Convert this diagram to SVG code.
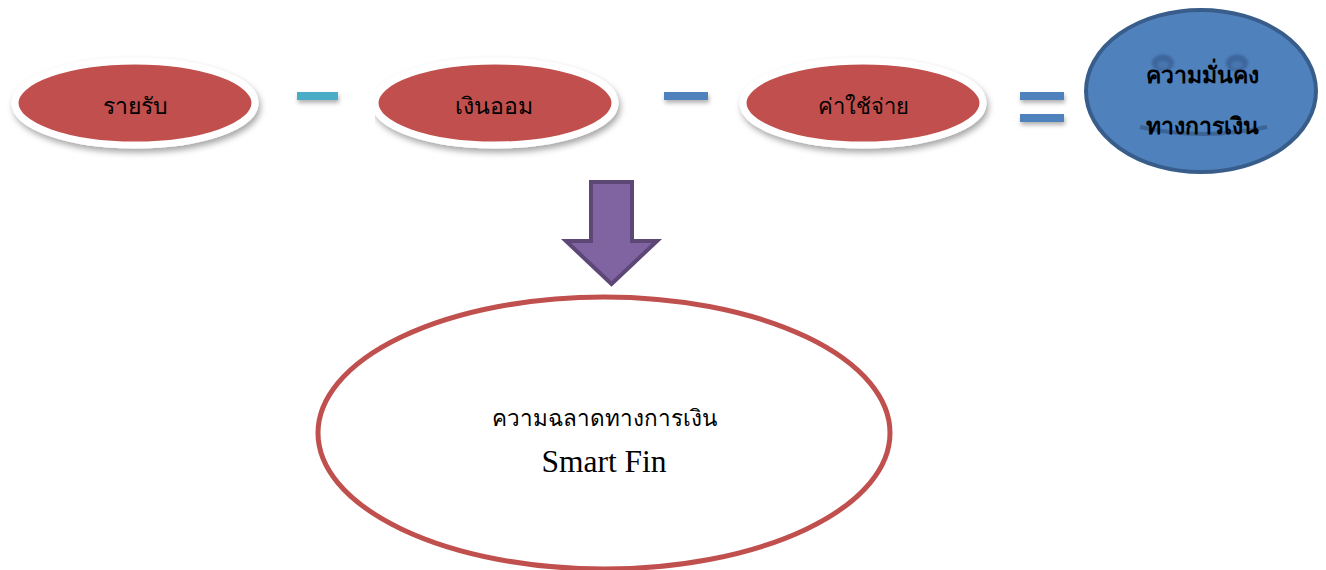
<svg xmlns="http://www.w3.org/2000/svg" width="1326" height="570" viewBox="0 0 1326 570">
<style>
.oval{fill:#c0504d;stroke:#ffffff;stroke-width:7;filter:url(#sh)}
.lbl{font-family:"Liberation Serif","Noto Sans",serif;font-size:23px;fill:#000;text-anchor:middle}
.face{font-family:"Liberation Serif","Noto Sans",serif;font-size:23px;font-weight:bold;fill:#000;text-anchor:middle}
.op{filter:url(#sh2)}
</style>
<defs>
<filter id="sh" x="-20%" y="-30%" width="140%" height="170%">
<feDropShadow dx="2" dy="4" stdDeviation="3" flood-color="#000" flood-opacity="0.35"/>
</filter>
<filter id="sh2" x="-30%" y="-100%" width="160%" height="400%">
<feDropShadow dx="1" dy="3" stdDeviation="2" flood-color="#000" flood-opacity="0.3"/>
</filter>
<filter id="blur" x="-50%" y="-50%" width="200%" height="200%">
<feGaussianBlur stdDeviation="1.2"/>
</filter>
<clipPath id="clip2"><rect x="375" y="0" width="400" height="200"/></clipPath>
</defs>

<g id="income">
<ellipse class="oval" cx="135" cy="103" rx="120" ry="42"/>
<text class="lbl" x="135" y="114">รายรับ</text>
</g>

<g id="savings">
<g clip-path="url(#clip2)">
<ellipse class="oval" cx="495" cy="103" rx="120" ry="42"/>
</g>
<text class="lbl" x="494" y="114">เงินออม</text>
</g>

<g id="expenses">
<ellipse class="oval" cx="863" cy="103" rx="120" ry="42"/>
<text class="lbl" x="863" y="114" style="font-size:22px">ค่าใช้จ่าย</text>
</g>

<g id="operators">
<rect class="op" x="297" y="92" width="41" height="8" fill="#4bacc6"/>
<rect class="op" x="664" y="92" width="44" height="8" fill="#4f81bd"/>
<rect class="op" x="1020" y="92" width="44" height="8" fill="#4f81bd"/>
<rect class="op" x="1020" y="114" width="44" height="8" fill="#4f81bd"/>
</g>

<g id="security">
<ellipse cx="1201" cy="91" rx="115" ry="81" fill="#4f81bd" stroke="#385d8a" stroke-width="4"/>
<g filter="url(#blur)">
<ellipse cx="1163" cy="63" rx="11" ry="8.5" fill="#3d669c"/>
<ellipse cx="1163" cy="65" rx="6" ry="4" fill="#4776ae"/>
<ellipse cx="1237" cy="63" rx="11" ry="8.5" fill="#3d669c"/>
<ellipse cx="1237" cy="65" rx="6" ry="4" fill="#4776ae"/>
</g>
<path d="M1140 127 Q1203 141 1267 127" fill="none" stroke="#3d6496" stroke-width="4"/>
<text class="face" x="1202" y="83">ความมั่นคง</text>
<text class="face" x="1202" y="134">ทางการเงิน</text>
</g>

<g id="connectors">
<path d="M591 182 H632 V241 H657 L611.5 284 L566 241 H591 Z" fill="#8064a2" stroke="#5c4776" stroke-width="4" stroke-linejoin="miter"/>
</g>

<g id="smartfin">
<ellipse cx="604" cy="433" rx="286" ry="136" fill="#ffffff" stroke="#c0504d" stroke-width="5"/>
<text class="lbl" x="604" y="426" style="font-size:22.5px">ความฉลาดทางการเงิน</text>
<text class="lbl" x="604" y="472" style="font-size:31.5px">Smart Fin</text>
</g>
</svg>
